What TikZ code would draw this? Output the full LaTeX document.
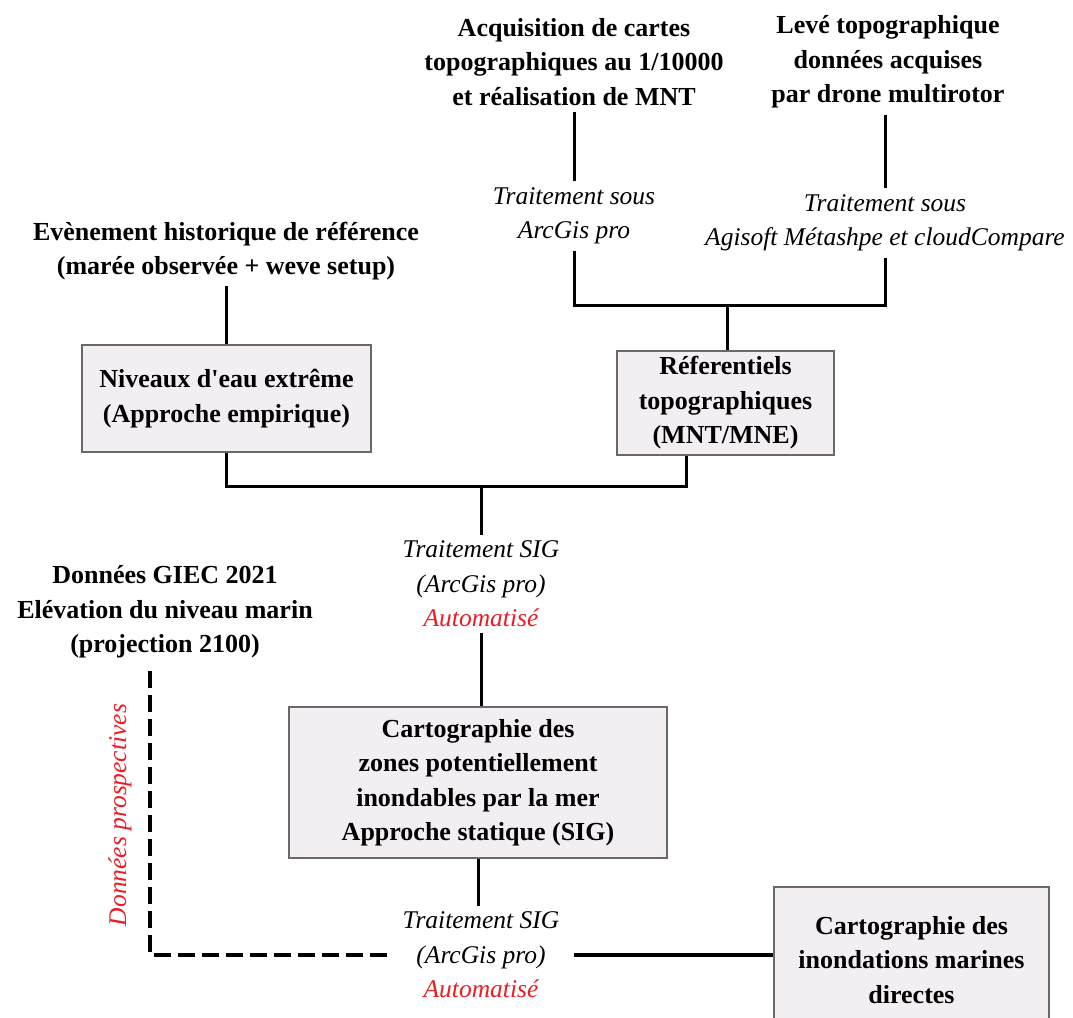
\documentclass[tikz,border=0pt]{standalone}
\usepackage{fontspec}
\setmainfont{Liberation Serif}[Ligatures=TeXOff]
\definecolor{boxfill}{RGB}{242,238,242}
\definecolor{boxline}{RGB}{105,105,105}
\definecolor{myred}{RGB}{236,28,36}
\newcommand\bsz{\fontsize{26}{34.5}\selectfont\bfseries}
\newcommand\isz{\fontsize{25.5}{34.5}\selectfont\itshape}
\tikzset{
  btxt/.style={font=\bsz, align=center, inner sep=6pt},
  itxt/.style={font=\isz, align=center, inner sep=6pt},
  pbox/.style={draw=boxline, fill=boxfill, line width=1.6pt, align=center, font=\bsz, inner sep=0pt},
  conn/.style={line width=3pt, black},
  dconn/.style={line width=3.2pt, black, dash pattern=on 17pt off 7pt},
}
\begin{document}
\begin{tikzpicture}[x=1pt,y=-1pt]
\useasboundingbox (0,0) rectangle (1073,1017);

% top sources
\node[btxt] (acq) at (574,62) {Acquisition de cartes\\topographiques au 1/10000\\et réalisation de MNT};
\node[btxt] (leve) at (888,62) {Levé topographique\\données acquises\\par drone multirotor};
\node[itxt] (t1) at (574,216) {Traitement sous\\ArcGis pro};
\node[itxt] (t2) at (885,223) {Traitement sous\\Agisoft Métashpe et cloudCompare};

% left source
\node[btxt] (evt) at (226,251) {Evènement historique de référence\\(marée observée + weve setup)};

% boxes
\node[pbox, minimum width=289pt, minimum height=107pt] (niv) at (226.5,398.5) {Niveaux d'eau extrême\\(Approche empirique)};
\node[pbox, minimum width=217pt, minimum height=104pt] (ref) at (725.5,403) {Réferentiels\\topographiques\\(MNT/MNE)};

\node[itxt] (sig1) at (481,584) {Traitement SIG\\(ArcGis pro)\\\textcolor{myred}{Automatisé}};

\node[btxt] (giec) at (165,612) {Données GIEC 2021\\Elévation du niveau marin\\(projection 2100)};

\node[pbox, minimum width=378pt, minimum height=151pt] (carto) at (478,782.5) {Cartographie des\\zones potentiellement\\inondables par la mer\\Approche statique (SIG)};

\node[itxt, inner xsep=15pt] (sig2) at (481,955) {Traitement SIG\\(ArcGis pro)\\\textcolor{myred}{Automatisé}};

\node[pbox, minimum width=275pt, minimum height=146pt] (final) at (911.5,960) {Cartographie des\\inondations marines\\directes};

\node[font=\isz, text=myred, rotate=90, inner sep=0pt] (prosp) at (120,815) {Données prospectives};

% connectors top
\coordinate (jtop) at (727,305);
\draw[conn] (acq.south) -- (t1.north);
\draw[conn] (leve.south -| t2.north) -- (t2.north);
\draw[conn] (t1.south) -- (t1.south |- jtop) -- (t2.south |- jtop) -- (t2.south);
\draw[conn] (jtop) -- (jtop |- ref.north);
\draw[conn] (evt.south -| niv.north) -- (niv.north);

% middle join
\coordinate (jmid) at (481,486);
\coordinate (rj) at ([xshift=70pt]ref.south west);
\draw[conn] (niv.south) -- (niv.south |- jmid) -- (rj |- jmid) -- (rj);
\draw[conn] (jmid) -- (sig1.north);
\draw[conn] (sig1.south) -- (sig1.south |- carto.north);
\draw[conn] (carto.south) -- (carto.south |- sig2.north);
\draw[conn, line width=3.4pt] (sig2.east) -- (sig2.east -| final.west);

% dashed prospective line
\coordinate (gd) at (150,671);
\draw[dconn] (gd) |- (sig2.west);
\end{tikzpicture}
\end{document}
